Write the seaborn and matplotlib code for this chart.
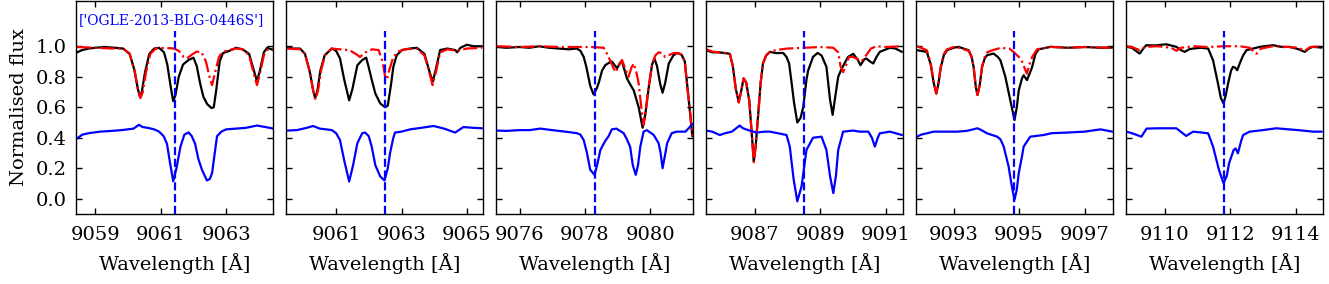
import matplotlib
matplotlib.use("Agg")
import matplotlib.pyplot as plt
import seaborn as sns
import pandas as pd

# line centres (blue dashed markers) and x tick positions for each panel
centres = [9061.42, 9062.48, 9078.29, 9088.52, 9094.86, 9111.83]
xticks = [[9059, 9061, 9063], [9061, 9063, 9065], [9076, 9078, 9080],
          [9087, 9089, 9091], [9093, 9095, 9097], [9110, 9112, 9114]]
yticks = [0.0, 0.2, 0.4, 0.6, 0.8, 1.0]
star_label = "['OGLE-2013-BLG-0446S']"

# panel 1 -- observed (black), model (red), second spectrum (blue)
obs_1 = [(9058.44, 0.96), (9058.6, 0.975), (9058.8, 0.985), (9059.0, 0.99), (9059.3, 0.995),
         (9059.6, 0.99), (9059.85, 0.985), (9060.05, 0.95), (9060.2, 0.84), (9060.3, 0.72),
         (9060.36, 0.67), (9060.42, 0.70), (9060.52, 0.83), (9060.65, 0.95), (9060.8, 0.985),
         (9060.95, 0.99), (9061.1, 0.96), (9061.2, 0.88), (9061.3, 0.74), (9061.38, 0.64),
         (9061.45, 0.68), (9061.55, 0.80), (9061.68, 0.88), (9061.85, 0.91), (9062.0, 0.925),
         (9062.1, 0.87), (9062.2, 0.76), (9062.3, 0.67), (9062.42, 0.62), (9062.55, 0.595),
         (9062.62, 0.60), (9062.7, 0.72), (9062.8, 0.9), (9062.9, 0.955), (9063.1, 0.97),
         (9063.3, 0.99), (9063.5, 0.98), (9063.7, 0.95), (9063.82, 0.86), (9063.94, 0.77),
         (9064.03, 0.84), (9064.15, 0.96), (9064.25, 0.99), (9064.45, 0.975)]
mod_1 = [(9058.44, 0.995), (9059.0, 0.99), (9059.5, 0.985), (9059.85, 0.985), (9060.05, 0.95),
         (9060.2, 0.84), (9060.3, 0.72), (9060.38, 0.66), (9060.45, 0.70), (9060.55, 0.83),
         (9060.68, 0.95), (9060.85, 0.985), (9061.1, 0.99), (9061.4, 0.985), (9061.55, 0.97),
         (9061.7, 0.93), (9061.8, 0.92), (9061.95, 0.945), (9062.1, 0.965), (9062.25, 0.96),
         (9062.38, 0.9), (9062.5, 0.79), (9062.57, 0.745), (9062.65, 0.82), (9062.78, 0.93),
         (9062.9, 0.965), (9063.1, 0.975), (9063.3, 0.985), (9063.5, 0.98), (9063.7, 0.94),
         (9063.82, 0.84), (9063.94, 0.745), (9064.03, 0.82), (9064.15, 0.94), (9064.25, 0.975),
         (9064.45, 0.985)]
sec_1 = [(9058.44, 0.395), (9058.6, 0.42), (9058.8, 0.43), (9059.15, 0.44), (9059.5, 0.445),
         (9059.8, 0.45), (9060.17, 0.46), (9060.33, 0.485), (9060.45, 0.47), (9060.6, 0.465),
         (9060.8, 0.455), (9060.95, 0.44), (9061.09, 0.41), (9061.19, 0.36), (9061.28, 0.24),
         (9061.38, 0.115), (9061.48, 0.2), (9061.6, 0.34), (9061.72, 0.42), (9061.85, 0.435),
         (9061.95, 0.41), (9062.05, 0.36), (9062.15, 0.26), (9062.26, 0.19), (9062.41, 0.12),
         (9062.5, 0.13), (9062.57, 0.17), (9062.65, 0.3), (9062.72, 0.41), (9062.85, 0.44),
         (9063.0, 0.455), (9063.3, 0.46), (9063.6, 0.465), (9063.94, 0.48), (9064.2, 0.47),
         (9064.45, 0.46)]

# panel 2
obs_2 = [(9059.49, 0.99), (9059.7, 0.985), (9059.9, 0.985), (9060.05, 0.95), (9060.2, 0.83),
         (9060.3, 0.71), (9060.36, 0.66), (9060.43, 0.71), (9060.52, 0.84), (9060.65, 0.94),
         (9060.87, 0.985), (9061.0, 0.97), (9061.12, 0.92), (9061.25, 0.78), (9061.4, 0.645),
         (9061.5, 0.72), (9061.65, 0.875), (9061.8, 0.91), (9061.92, 0.925), (9062.0, 0.86),
         (9062.09, 0.78), (9062.2, 0.69), (9062.35, 0.625), (9062.5, 0.6), (9062.58, 0.61),
         (9062.68, 0.75), (9062.75, 0.865), (9062.85, 0.94), (9063.01, 0.975), (9063.25, 0.985),
         (9063.47, 0.99), (9063.7, 0.95), (9063.82, 0.86), (9063.95, 0.765), (9064.05, 0.85),
         (9064.18, 0.975), (9064.4, 0.985), (9064.64, 0.975), (9064.7, 0.96), (9064.8, 0.99),
         (9065.0, 1.01), (9065.2, 1.0), (9065.46, 1.0)]
mod_2 = [(9059.49, 0.985), (9059.9, 0.98), (9060.05, 0.95), (9060.2, 0.83), (9060.3, 0.71),
         (9060.37, 0.65), (9060.45, 0.71), (9060.55, 0.85), (9060.68, 0.95), (9060.87, 0.985),
         (9061.1, 0.98), (9061.4, 0.975), (9061.6, 0.95), (9061.73, 0.93), (9061.9, 0.96),
         (9062.1, 0.98), (9062.3, 0.975), (9062.42, 0.9), (9062.5, 0.8), (9062.55, 0.78),
         (9062.62, 0.84), (9062.75, 0.93), (9062.9, 0.965), (9063.1, 0.98), (9063.47, 0.985),
         (9063.7, 0.94), (9063.82, 0.85), (9063.95, 0.745), (9064.05, 0.83), (9064.18, 0.96),
         (9064.4, 0.98), (9064.7, 0.97), (9065.0, 0.985), (9065.46, 0.99)]
sec_2 = [(9059.49, 0.447), (9059.8, 0.45), (9060.1, 0.465), (9060.3, 0.477), (9060.5, 0.46),
         (9060.7, 0.455), (9060.87, 0.45), (9061.0, 0.43), (9061.12, 0.385), (9061.25, 0.25),
         (9061.4, 0.113), (9061.52, 0.22), (9061.65, 0.364), (9061.8, 0.43), (9061.89, 0.434),
         (9062.0, 0.41), (9062.09, 0.34), (9062.2, 0.22), (9062.35, 0.146), (9062.48, 0.12),
         (9062.58, 0.2), (9062.65, 0.3), (9062.75, 0.4), (9062.8, 0.434), (9063.0, 0.44),
         (9063.26, 0.455), (9063.6, 0.465), (9063.98, 0.477), (9064.3, 0.46), (9064.64, 0.434),
         (9064.89, 0.47), (9065.2, 0.465), (9065.46, 0.462)]

# panel 3
obs_3 = [(9075.31, 0.995), (9075.6, 0.99), (9076.0, 0.995), (9076.3, 0.99), (9076.6, 1.0),
         (9076.9, 0.99), (9077.2, 0.985), (9077.5, 0.98), (9077.75, 0.985), (9077.86, 0.97),
         (9077.96, 0.93), (9078.04, 0.865), (9078.16, 0.74), (9078.26, 0.684), (9078.35, 0.72),
         (9078.42, 0.76), (9078.52, 0.84), (9078.62, 0.876), (9078.72, 0.89), (9078.82, 0.9),
         (9078.98, 0.855), (9079.08, 0.895), (9079.13, 0.9), (9079.28, 0.79), (9079.38, 0.75),
         (9079.49, 0.71), (9079.64, 0.6), (9079.76, 0.466), (9079.84, 0.55), (9079.94, 0.72),
         (9080.05, 0.88), (9080.12, 0.92), (9080.2, 0.87), (9080.3, 0.75), (9080.37, 0.695),
         (9080.45, 0.76), (9080.56, 0.887), (9080.7, 0.94), (9080.81, 0.956), (9080.95, 0.945),
         (9081.05, 0.9), (9081.17, 0.647), (9081.28, 0.41)]
mod_3 = [(9075.31, 1.0), (9076.0, 0.995), (9076.6, 1.0), (9077.2, 0.995), (9077.8, 0.995),
         (9078.2, 0.995), (9078.57, 0.99), (9078.65, 0.96), (9078.72, 0.93), (9078.82, 0.88),
         (9078.93, 0.83), (9079.03, 0.87), (9079.13, 0.91), (9079.2, 0.87), (9079.33, 0.8),
         (9079.42, 0.86), (9079.49, 0.887), (9079.58, 0.82), (9079.64, 0.756), (9079.72, 0.6),
         (9079.79, 0.484), (9079.86, 0.58), (9079.94, 0.73), (9080.05, 0.88), (9080.15, 0.94),
         (9080.25, 0.96), (9080.35, 0.955), (9080.45, 0.93), (9080.6, 0.945), (9080.71, 0.956),
         (9080.85, 0.955), (9080.95, 0.945), (9081.05, 0.9), (9081.12, 0.734), (9081.2, 0.6),
         (9081.28, 0.41)]
sec_3 = [(9075.31, 0.447), (9075.6, 0.445), (9076.0, 0.45), (9076.3, 0.45), (9076.63, 0.46),
         (9077.0, 0.45), (9077.4, 0.44), (9077.75, 0.43), (9077.86, 0.42), (9077.96, 0.385),
         (9078.06, 0.3), (9078.16, 0.19), (9078.29, 0.157), (9078.37, 0.22), (9078.47, 0.32),
         (9078.62, 0.38), (9078.72, 0.41), (9078.82, 0.455), (9078.96, 0.46), (9079.18, 0.43),
         (9079.28, 0.39), (9079.38, 0.34), (9079.46, 0.22), (9079.55, 0.157), (9079.62, 0.22),
         (9079.69, 0.342), (9079.79, 0.44), (9079.89, 0.45), (9080.1, 0.418), (9080.25, 0.364),
         (9080.31, 0.3), (9080.37, 0.2), (9080.44, 0.28), (9080.51, 0.364), (9080.65, 0.43),
         (9080.8, 0.44), (9081.07, 0.44), (9081.2, 0.47), (9081.28, 0.49)]

# panel 4
obs_4 = [(9085.52, 0.974), (9085.7, 0.96), (9085.9, 0.96), (9086.1, 0.955), (9086.24, 0.95),
         (9086.33, 0.87), (9086.42, 0.72), (9086.51, 0.636), (9086.58, 0.7), (9086.66, 0.79),
         (9086.74, 0.76), (9086.83, 0.647), (9086.9, 0.45), (9086.97, 0.244), (9087.03, 0.35),
         (9087.1, 0.54), (9087.18, 0.76), (9087.25, 0.887), (9087.35, 0.94), (9087.46, 0.963),
         (9087.65, 0.955), (9087.87, 0.956), (9087.97, 0.93), (9088.05, 0.887), (9088.12, 0.77),
         (9088.2, 0.63), (9088.3, 0.5), (9088.4, 0.53), (9088.48, 0.6), (9088.58, 0.78),
         (9088.63, 0.84), (9088.78, 0.93), (9088.92, 0.956), (9089.04, 0.94), (9089.19, 0.865),
         (9089.3, 0.65), (9089.38, 0.55), (9089.46, 0.67), (9089.55, 0.8), (9089.65, 0.85),
         (9089.75, 0.89), (9089.85, 0.93), (9090.01, 0.95), (9090.15, 0.91), (9090.23, 0.876),
         (9090.35, 0.915), (9090.41, 0.92), (9090.52, 0.9), (9090.62, 0.887), (9090.72, 0.93),
         (9090.82, 0.963), (9091.13, 0.99), (9091.3, 0.985), (9091.5, 0.963)]
mod_4 = [(9085.52, 0.98), (9085.7, 0.965), (9085.9, 0.96), (9086.1, 0.955), (9086.24, 0.95),
         (9086.33, 0.87), (9086.42, 0.72), (9086.51, 0.63), (9086.58, 0.7), (9086.66, 0.79),
         (9086.74, 0.76), (9086.83, 0.647), (9086.9, 0.45), (9086.97, 0.24), (9087.03, 0.35),
         (9087.1, 0.54), (9087.18, 0.76), (9087.25, 0.887), (9087.35, 0.94), (9087.46, 0.963),
         (9087.65, 0.975), (9088.0, 0.985), (9088.5, 0.99), (9089.0, 0.995), (9089.4, 0.99),
         (9089.55, 0.96), (9089.62, 0.87), (9089.7, 0.83), (9089.8, 0.88), (9089.88, 0.93),
         (9090.0, 0.93), (9090.1, 0.92), (9090.26, 0.9), (9090.4, 0.94), (9090.55, 0.985),
         (9090.72, 1.0), (9091.0, 0.995), (9091.5, 1.0)]
sec_4 = [(9085.52, 0.447), (9085.7, 0.44), (9085.93, 0.418), (9086.1, 0.43), (9086.3, 0.44),
         (9086.54, 0.48), (9086.64, 0.462), (9086.8, 0.45), (9087.05, 0.434), (9087.3, 0.44),
         (9087.46, 0.44), (9087.7, 0.43), (9087.97, 0.418), (9088.07, 0.342), (9088.19, 0.124),
         (9088.3, -0.017), (9088.43, 0.081), (9088.58, 0.32), (9088.78, 0.4), (9089.04, 0.407),
         (9089.19, 0.32), (9089.3, 0.15), (9089.4, 0.037), (9089.48, 0.15), (9089.55, 0.32),
         (9089.7, 0.44), (9090.01, 0.447), (9090.2, 0.44), (9090.47, 0.44), (9090.58, 0.4),
         (9090.67, 0.342), (9090.76, 0.4), (9090.82, 0.429), (9091.13, 0.44), (9091.5, 0.418)]

# panel 5
obs_5 = [(9091.88, 0.974), (9092.0, 0.97), (9092.18, 0.963), (9092.3, 0.88), (9092.39, 0.76),
         (9092.47, 0.69), (9092.54, 0.76), (9092.61, 0.865), (9092.7, 0.94), (9092.8, 0.974),
         (9093.0, 0.99), (9093.15, 0.996), (9093.3, 0.985), (9093.46, 0.974), (9093.55, 0.93),
         (9093.61, 0.865), (9093.68, 0.73), (9093.73, 0.68), (9093.8, 0.75), (9093.87, 0.865),
         (9093.95, 0.92), (9094.02, 0.941), (9094.22, 0.952), (9094.35, 0.93), (9094.43, 0.908),
         (9094.58, 0.8), (9094.73, 0.647), (9094.86, 0.516), (9094.93, 0.6), (9094.99, 0.71),
         (9095.09, 0.79), (9095.14, 0.81), (9095.24, 0.778), (9095.34, 0.83), (9095.4, 0.865),
         (9095.5, 0.95), (9095.6, 0.98), (9095.96, 0.996), (9096.5, 0.99), (9097.0, 0.995),
         (9097.5, 0.99), (9097.85, 0.991)]
mod_5 = [(9091.88, 1.0), (9092.0, 0.99), (9092.18, 0.974), (9092.3, 0.89), (9092.39, 0.77),
         (9092.47, 0.69), (9092.54, 0.77), (9092.61, 0.87), (9092.7, 0.95), (9092.8, 0.98),
         (9093.0, 0.995), (9093.15, 0.99), (9093.46, 0.97), (9093.55, 0.93), (9093.61, 0.865),
         (9093.68, 0.73), (9093.73, 0.68), (9093.8, 0.75), (9093.87, 0.87), (9093.95, 0.93),
         (9094.02, 0.96), (9094.2, 0.975), (9094.43, 0.989), (9094.7, 0.985), (9094.83, 0.963),
         (9094.99, 0.93), (9095.09, 0.9), (9095.18, 0.85), (9095.24, 0.82), (9095.3, 0.87),
         (9095.4, 0.93), (9095.55, 0.98), (9095.96, 0.996), (9096.5, 0.99), (9097.0, 0.995),
         (9097.85, 0.99)]
sec_5 = [(9091.88, 0.407), (9092.0, 0.42), (9092.2, 0.43), (9092.39, 0.44), (9092.8, 0.44),
         (9093.1, 0.44), (9093.4, 0.445), (9093.73, 0.462), (9093.85, 0.45), (9094.02, 0.429),
         (9094.33, 0.407), (9094.43, 0.39), (9094.53, 0.342), (9094.68, 0.211), (9094.78, 0.08),
         (9094.86, -0.007), (9094.93, 0.06), (9094.99, 0.168), (9095.09, 0.28), (9095.14, 0.342),
         (9095.34, 0.407), (9095.75, 0.418), (9096.0, 0.43), (9096.47, 0.434), (9097.0, 0.44),
         (9097.49, 0.455), (9097.85, 0.44)]

# panel 6
obs_6 = [(9108.83, 0.996), (9109.0, 0.99), (9109.15, 0.965), (9109.24, 0.952), (9109.35, 0.985),
         (9109.44, 1.007), (9109.7, 1.005), (9110.05, 1.013), (9110.36, 0.996), (9110.5, 0.975),
         (9110.61, 0.963), (9110.75, 0.98), (9110.87, 0.985), (9111.1, 0.99), (9111.33, 0.985),
         (9111.48, 0.908), (9111.63, 0.756), (9111.72, 0.66), (9111.8, 0.625), (9111.87, 0.68),
         (9111.94, 0.756), (9112.03, 0.84), (9112.09, 0.865), (9112.15, 0.86), (9112.22, 0.843),
         (9112.3, 0.89), (9112.4, 0.94), (9112.5, 0.974), (9112.91, 0.996), (9113.31, 1.007),
         (9113.6, 0.995), (9113.82, 0.996), (9114.1, 0.98), (9114.28, 0.963), (9114.45, 0.99),
         (9114.54, 0.996), (9114.8, 0.991)]
mod_6 = [(9108.83, 1.0), (9109.0, 0.995), (9109.24, 0.974), (9109.4, 0.996), (9109.8, 1.0),
         (9110.2, 0.99), (9110.36, 0.97), (9110.5, 0.99), (9110.9, 1.0), (9111.3, 0.995),
         (9111.8, 1.0), (9112.3, 1.0), (9112.6, 0.99), (9112.8, 0.95), (9112.95, 0.985),
         (9113.3, 1.0), (9113.8, 0.995), (9114.1, 0.99), (9114.28, 0.97), (9114.45, 0.995),
         (9114.8, 1.0)]
sec_6 = [(9108.83, 0.44), (9109.0, 0.43), (9109.29, 0.407), (9109.45, 0.46), (9109.8, 0.462),
         (9110.36, 0.462), (9110.55, 0.43), (9110.66, 0.412), (9110.87, 0.44), (9111.1, 0.435),
         (9111.33, 0.429), (9111.48, 0.342), (9111.66, 0.19), (9111.8, 0.102), (9111.9, 0.15),
         (9111.97, 0.233), (9112.11, 0.32), (9112.17, 0.33), (9112.24, 0.298), (9112.34, 0.38),
         (9112.4, 0.418), (9112.6, 0.44), (9113.0, 0.45), (9113.41, 0.462), (9113.8, 0.455),
         (9114.03, 0.451), (9114.54, 0.44), (9114.8, 0.44)]

observed = [obs_1, obs_2, obs_3, obs_4, obs_5, obs_6]
models = [mod_1, mod_2, mod_3, mod_4, mod_5, mod_6]
second = [sec_1, sec_2, sec_3, sec_4, sec_5, sec_6]

sns.set_style("ticks")
plt.rcParams['font.family'] = ['DejaVu Serif']
plt.rcParams['font.size'] = 14
plt.rcParams['mathtext.fontset'] = 'dejavuserif'
for key in ['text.color', 'axes.labelcolor', 'xtick.color', 'ytick.color', 'axes.edgecolor']:
    plt.rcParams[key] = 'black'

fig = plt.figure(figsize=(13.29, 2.84), dpi=100)

for i in range(6):
    ax = fig.add_axes([(76 + 210 * i) / 1329, 70 / 284, 197 / 1329, 213.5 / 284])
    df_obs = pd.DataFrame(observed[i], columns=['wave', 'flux'])
    df_mod = pd.DataFrame(models[i], columns=['wave', 'flux'])
    df_sec = pd.DataFrame(second[i], columns=['wave', 'flux'])

    sns.lineplot(data=df_obs, x='wave', y='flux', color='k', lw=1.6, ax=ax,
                 sort=False, estimator=None)
    sns.lineplot(data=df_mod, x='wave', y='flux', color='r', lw=1.6, ls='-.', ax=ax,
                 sort=False, estimator=None)
    sns.lineplot(data=df_sec, x='wave', y='flux', color='b', lw=1.6, ax=ax,
                 sort=False, estimator=None)

    c = centres[i]
    ax.axvline(c, ymin=0, ymax=(1.1 + 0.1) / 1.4, color='b', ls='--', lw=1.6)

    ax.set_xlim(c - 3.01, c + 3.01)
    ax.set_ylim(-0.1, 1.3)
    ax.set_xticks(xticks[i])
    ax.set_xticklabels([str(t) for t in xticks[i]])
    ax.set_yticks(yticks)
    ax.tick_params(direction='in', top=True, right=True, length=4, width=1,
                   labelsize=14)
    ax.tick_params(axis='x', pad=9)
    ax.tick_params(axis='y', pad=7)
    ax.set_xlabel('Wavelength [Å]', fontsize=14, labelpad=6)
    if i == 0:
        ax.set_yticklabels(['%.1f' % t for t in yticks])
        ax.set_ylabel('Normalised flux', fontsize=14, labelpad=5)
        ax.text(c - 0.1, 1.17, star_label, color='b', fontsize=10,
                ha='center', va='center')
    else:
        ax.set_yticklabels([])
        ax.set_ylabel('')
    for sp in ax.spines.values():
        sp.set_linewidth(1.0)
        sp.set_color('k')

fig.savefig('out.png', dpi=100)
